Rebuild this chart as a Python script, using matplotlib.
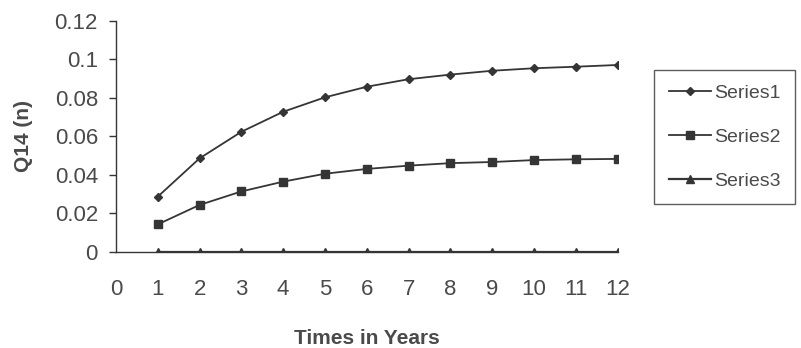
import matplotlib.pyplot as plt

# years and the three series of Q14(n)
years = [1, 2, 3, 4, 5, 6, 7, 8, 9, 10, 11, 12]
series1 = [0.0286, 0.0485, 0.0623, 0.0727, 0.0802, 0.0857, 0.0896, 0.0920, 0.0940, 0.0953, 0.0961, 0.0970]
series2 = [0.0142, 0.0243, 0.0313, 0.0364, 0.0405, 0.0430, 0.0447, 0.0460, 0.0466, 0.0476, 0.0480, 0.0482]
series3 = [0, 0, 0, 0, 0, 0, 0, 0, 0, 0, 0, 0]
y_ticks = [0, 0.02, 0.04, 0.06, 0.08, 0.1, 0.12]
y_tick_labels = ['0', '0.02', '0.04', '0.06', '0.08', '0.1', '0.12']

plt.rcParams['font.family'] = ['Liberation Sans', 'DejaVu Sans']
line_col = '#353535'
text_col = '#4a4a4a'

fig = plt.figure(figsize=(8.01, 3.48), dpi=100)
ax = fig.add_axes([0.1448, 0.2767, 0.771 - 0.1448, 0.9405 - 0.2767])

ax.plot(years, series1, color=line_col, lw=1.3, marker='D', ms=4, label='Series1')
ax.plot(years, series2, color=line_col, lw=1.3, marker='s', ms=6, label='Series2')
ax.plot(years, series3, color=line_col, lw=1.6, marker='^', ms=6, label='Series3')

ax.set_xlim(0, 12)
ax.set_ylim(0, 0.12)
ax.set_xticks(range(0, 13))
ax.set_yticks(y_ticks)
ax.set_yticklabels(y_tick_labels)
ax.set_xticks([0], minor=True)

for side in ['top', 'right']:
    ax.spines[side].set_visible(False)
for side in ['left', 'bottom']:
    ax.spines[side].set_color(line_col)
    ax.spines[side].set_linewidth(1.0)

ax.tick_params(axis='y', direction='out', length=5, width=1, color=line_col,
               pad=8, labelsize=16, labelcolor=text_col)
ax.tick_params(axis='x', which='major', length=0, pad=20, labelsize=16, labelcolor=text_col)
ax.tick_params(axis='x', which='minor', direction='out', length=6, width=1, color=line_col)

ax.set_ylabel('Q14 (n)', fontsize=15, fontweight='bold', color=text_col)
ax.yaxis.set_label_coords(-0.165, 0.5)
ax.set_xlabel('Times in Years', fontsize=15, fontweight='bold', color=text_col)
ax.xaxis.set_label_coords(0.5, -0.335)

leg = fig.legend(loc='upper left', bbox_to_anchor=(0.8165, 0.80), fontsize=14,
                 frameon=True, fancybox=False, handlelength=2.2, handletextpad=0.15,
                 labelspacing=1.35, borderpad=0.75, borderaxespad=0,
                 labelcolor=text_col)
leg.get_frame().set_edgecolor(line_col)
leg.get_frame().set_linewidth(1.0)

fig.savefig('out.png', dpi=100)
